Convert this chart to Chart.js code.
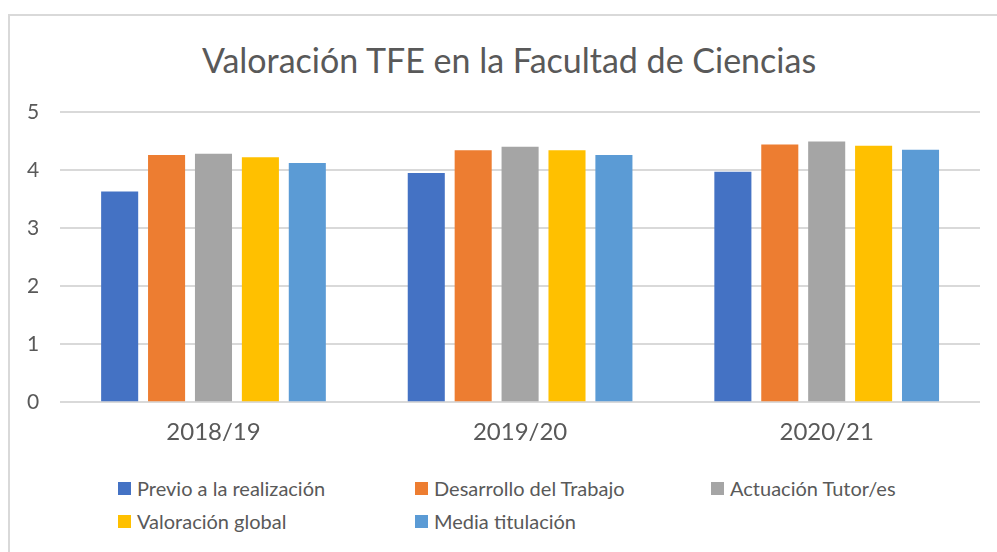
<!DOCTYPE html>
<html>
<head>
<meta charset="utf-8">
<script src="https://cdn.jsdelivr.net/npm/chart.js@4"></script>
<style>
    html, body { margin: 0; padding: 0; background: #fff; }
    body { width: 997px; height: 552px; position: relative; overflow: hidden; font-family: Lato, sans-serif; }
    .frame { position: absolute; left: 8px; top: 14px; width: 1200px; height: 800px; border-left: 2px solid #d9d9d9; border-top: 2px solid #d9d9d9; }
    .chart-title { position: absolute; left: 0; top: 40px; width: 1018px; text-align: center; font-size: 34px; line-height: 40px; color: #595959; }
    .chart-box { position: absolute; left: 0; top: 0; width: 997px; height: 455px; }
    .legend { position: absolute; left: 118px; top: 477px; display: grid; grid-template-columns: 297px 296px 296px; row-gap: 11px; }
    .legend-item { display: flex; align-items: center; font-size: 20px; color: #595959; height: 22px; }
    .legend-box { width: 13px; height: 13px; margin-right: 6px; flex: none; }
</style>
</head>
<body>
<div class="frame"></div>
<div class="chart-title" id="chartTitle"></div>
<div class="chart-box"><canvas id="barChart"></canvas></div>
<div class="legend" id="legend"></div>
<script>
const chartTitle = 'Valoración TFE en la Facultad de Ciencias';
const categories = ['2018/19', '2019/20', '2020/21'];
const seriesNames = ['Previo a la realización', 'Desarrollo del Trabajo', 'Actuación Tutor/es', 'Valoración global', 'Media titulación'];
const seriesColors = ['#4472C4', '#ED7D31', '#A5A5A5', '#FFC000', '#5B9BD5'];
const previo = [3.63, 3.95, 3.97];
const desarrollo = [4.26, 4.34, 4.44];
const tutores = [4.28, 4.40, 4.49];
const global = [4.22, 4.34, 4.42];
const media = [4.12, 4.26, 4.35];
const yTicks = [0, 1, 2, 3, 4, 5];

document.addEventListener('DOMContentLoaded', function() {
    document.getElementById('chartTitle').textContent = chartTitle;
    initializeChart();
    initializeLegend();
    });

function initializeChart() {
    const ctx = document.getElementById('barChart');
    const values = [previo, desarrollo, tutores, global, media];
    new Chart(ctx, {
        type: 'bar',
        data: {
            labels: categories,
            datasets: seriesNames.map((name, i) => ({
                label: name,
                data: values[i],
                backgroundColor: seriesColors[i],
                borderWidth: 0
                }))
            },
        options: {
            responsive: true,
            maintainAspectRatio: false,
            animation: false,
            layout: { padding: { left: 6, right: 17, top: 112, bottom: 0 } },
            datasets: { bar: { categoryPercentage: 0.765, barPercentage: 0.79 } },
            plugins: {
                legend: { display: false },
                tooltip: { enabled: false },
                title: { display: false }
                },
            scales: {
                x: {
                    grid: { display: false },
                    border: { display: false },
                    ticks: { color: '#595959', font: { family: 'Lato', size: 24 }, padding: 8 }
                    },
                y: {
                    min: 0,
                    max: 5,
                    afterBuildTicks: axis => { axis.ticks = yTicks.map(v => ({ value: v })); },
                    grid: { color: '#d9d9d9', lineWidth: 2, drawTicks: false },
                    border: { display: false },
                    ticks: { color: '#595959', font: { family: 'Lato', size: 21 }, padding: 21 }
                    }
                }
            }
        });
    }

function initializeLegend() {
    const legend = document.getElementById('legend');
    seriesNames.forEach((name, i) => {
        legend.innerHTML += `
            <div class="legend-item">
              <span class="legend-box" style="background:${seriesColors[i]}"></span>${name}
            </div>`;
        });
    }
</script>
</body>
</html>
